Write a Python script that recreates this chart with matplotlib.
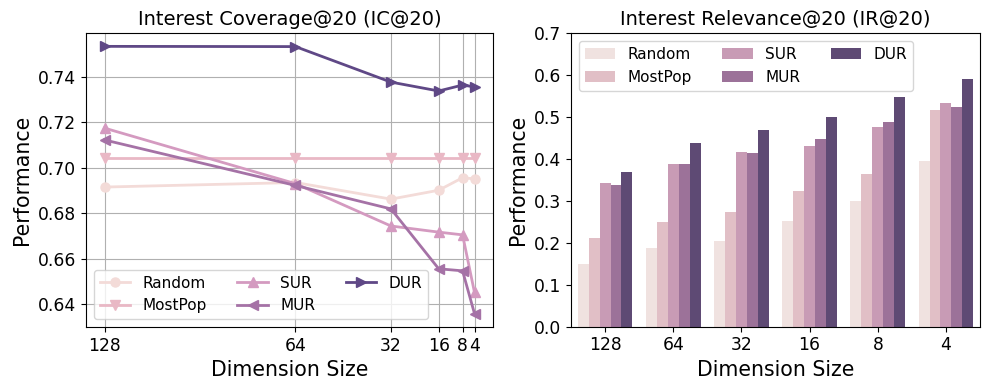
import numpy as np
import matplotlib
matplotlib.use('Agg')
import matplotlib.pyplot as plt

# data
dims = [128, 64, 32, 16, 8, 4]
methods = ['Random', 'MostPop', 'SUR', 'MUR', 'DUR']

ic_random = [0.6915, 0.6935, 0.6862, 0.6901, 0.6956, 0.6951]
ic_mostpop = [0.7042, 0.7042, 0.7042, 0.7042, 0.7042, 0.7042]
ic_sur = [0.7174, 0.6930, 0.6744, 0.6717, 0.6705, 0.6452]
ic_mur = [0.7122, 0.6922, 0.6819, 0.6556, 0.6547, 0.6359]
ic_dur = [0.7533, 0.7532, 0.7376, 0.7337, 0.7363, 0.7355]

ir_random = [0.150, 0.187, 0.205, 0.252, 0.300, 0.395]
ir_mostpop = [0.211, 0.250, 0.274, 0.324, 0.364, 0.517]
ir_sur = [0.343, 0.388, 0.417, 0.431, 0.477, 0.534]
ir_mur = [0.338, 0.388, 0.415, 0.448, 0.488, 0.524]
ir_dur = [0.369, 0.438, 0.469, 0.500, 0.548, 0.591]

line_colors = ['#f3dbd8', '#e9b8c5', '#d49ac0', '#a572a6', '#5f4886']
bar_colors = ['#f0e2e0', '#e1bfc6', '#c89bb5', '#9c7299', '#5e4a74']
markers = ['o', 'v', '^', '<', '>']

fig = plt.figure(figsize=(9.89, 3.9), dpi=100)
ax1 = fig.add_axes([86/989, 1-327/390, 407/989, 294/390])
ax2 = fig.add_axes([571/989, 1-326.7/390, 409/989, 293.4/390])

# left: line chart
ic_all = [ic_random, ic_mostpop, ic_sur, ic_mur, ic_dur]
for name, vals, c, m in zip(methods, ic_all, line_colors, markers):
    ax1.plot(dims, vals, color=c, marker=m, lw=2, ms=6.5, label=name)
ax1.invert_xaxis()
ax1.set_xticks(dims)
ax1.set_xticklabels([str(d) for d in dims])
ax1.set_yticks([0.64, 0.66, 0.68, 0.70, 0.72, 0.74])
ax1.grid(True, color='#b0b0b0', lw=0.8)
ax1.set_axisbelow(True)
ax1.tick_params(labelsize=12.3)
ax1.set_xlabel('Dimension Size', fontsize=14.8)
ax1.set_ylabel('Performance', fontsize=14.8)
ax1.set_title('Interest Coverage@20 (IC@20)', fontsize=14)
ax1.legend(loc='lower left', ncol=3, fontsize=11)

# right: grouped bars
ir_all = [ir_random, ir_mostpop, ir_sur, ir_mur, ir_dur]
x = np.arange(len(dims))
w = 0.8 / len(methods)
for i, (name, vals, c) in enumerate(zip(methods, ir_all, bar_colors)):
    ax2.bar(x - 0.4 + w/2 + i*w, vals, width=w, color=c, label=name)
ax2.set_xticks(x)
ax2.set_xticklabels([str(d) for d in dims])
ax2.set_xlim(-0.5, len(dims) - 0.5)
ax2.set_ylim(0, 0.7)
ax2.tick_params(labelsize=12.3)
ax2.set_xlabel('Dimension Size', fontsize=14.8)
ax2.set_ylabel('Performance', fontsize=14.8)
ax2.set_title('Interest Relevance@20 (IR@20)', fontsize=14)
ax2.legend(loc='upper left', ncol=3, fontsize=11)

plt.savefig('out.png', dpi=100)
